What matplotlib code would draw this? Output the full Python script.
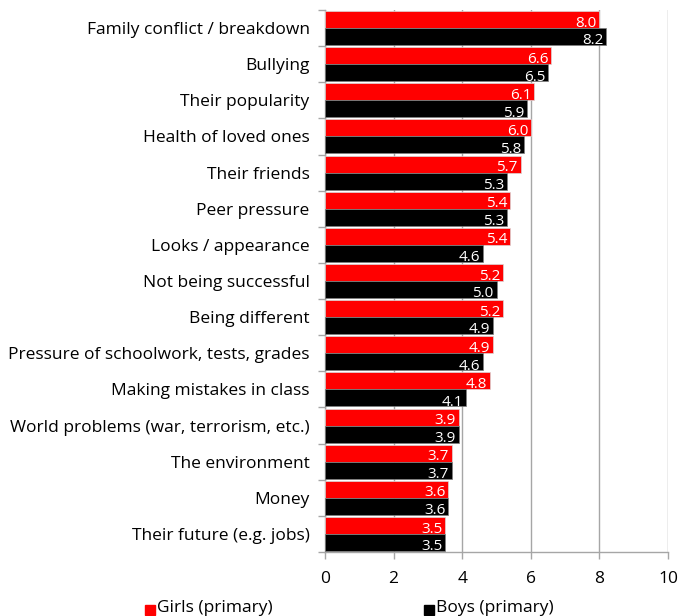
import matplotlib.pyplot as plt
import numpy as np
from matplotlib.patches import Rectangle

categories = [
    "Family conflict / breakdown",
    "Bullying",
    "Their popularity",
    "Health of loved ones",
    "Their friends",
    "Peer pressure",
    "Looks / appearance",
    "Not being successful",
    "Being different",
    "Pressure of schoolwork, tests, grades",
    "Making mistakes in class",
    "World problems (war, terrorism, etc.)",
    "The environment",
    "Money",
    "Their future (e.g. jobs)",
]
girls = [8.0, 6.6, 6.1, 6.0, 5.7, 5.4, 5.4, 5.2, 5.2, 4.9, 4.8, 3.9, 3.7, 3.6, 3.5]
boys = [8.2, 6.5, 5.9, 5.8, 5.3, 5.3, 4.6, 5.0, 4.9, 4.6, 4.1, 3.9, 3.7, 3.6, 3.5]
series_names = ["Girls (primary)", "Boys (primary)"]
xticks = [0, 2, 4, 6, 8, 10]

plt.rcParams["font.family"] = ["Open Sans", "DejaVu Sans"]

fig = plt.figure(figsize=(6.81, 6.16), dpi=100)
ax = fig.add_axes([325 / 681, 1 - 552 / 616, 343 / 681, 542 / 616])

n = len(categories)
pos = np.arange(n)
h = 0.47
grey = "#a6a6a6"

ax.barh(pos - h / 2, girls, height=h, color="#ff0000", edgecolor="#d9d9d9",
        linewidth=0.5, zorder=3)
ax.barh(pos + h / 2, boys, height=h, color="#000000", edgecolor="#7f7f7f",
        linewidth=0.5, zorder=3)

for i, (g, b) in enumerate(zip(girls, boys)):
    ax.text(g - 0.08, i - h / 2 + 0.1, f"{g:.1f}", color="white", fontsize=11,
            ha="right", va="center", zorder=4)
    ax.text(b - 0.08, i + h / 2 + 0.12, f"{b:.1f}", color="white", fontsize=11,
            ha="right", va="center", zorder=4)

ax.set_xlim(0, 10)
ax.set_ylim(n - 0.5, -0.5)
ax.set_xticks(xticks)
ax.set_xticklabels([str(t) for t in xticks], fontsize=12.5)
ax.xaxis.grid(True, color=grey, linewidth=1, zorder=0)

ax.set_yticks(pos)
ax.set_yticklabels(categories, fontsize=12.5)
ax.tick_params(axis="y", length=0, pad=11)
ax.set_yticks(np.arange(n + 1) - 0.5, minor=True)
ax.tick_params(axis="y", which="minor", length=5, color=grey, width=1)
ax.tick_params(axis="x", length=5, color=grey, width=1, pad=9)

for side in ["top", "right"]:
    ax.spines[side].set_visible(False)
for side in ["left", "bottom"]:
    ax.spines[side].set_color(grey)
    ax.spines[side].set_linewidth(1)

# legend squares and labels along the bottom edge
fig.patches.append(Rectangle((145 / 681, 1 - 615 / 616), 10 / 681, 10 / 616,
                             transform=fig.transFigure, color="#ff0000"))
fig.text(157 / 681, 1 - 608 / 616, series_names[0], fontsize=12.5, va="center")
fig.patches.append(Rectangle((424 / 681, 1 - 615 / 616), 10 / 681, 10 / 616,
                             transform=fig.transFigure, color="#000000"))
fig.text(436 / 681, 1 - 608 / 616, series_names[1], fontsize=12.5, va="center")

fig.savefig("out.png", dpi=100)
